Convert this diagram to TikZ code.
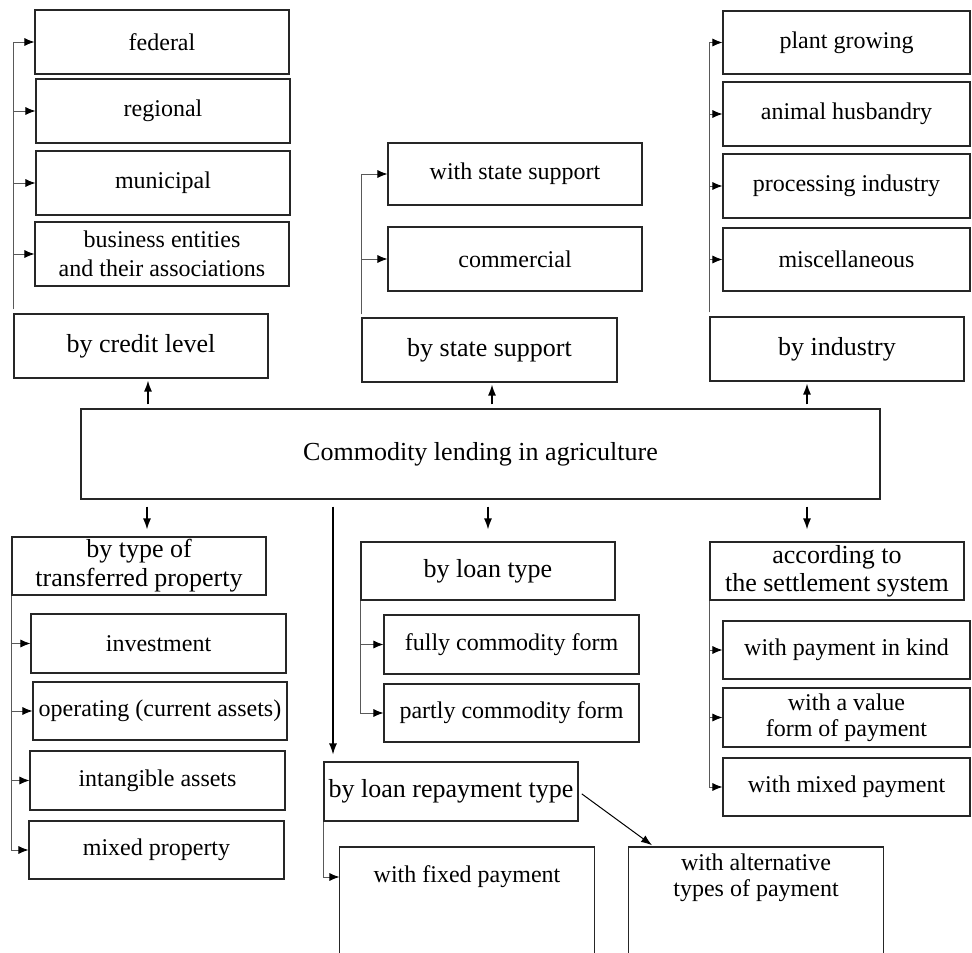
\documentclass[tikz,border=0pt]{standalone}
\usepackage{fontspec}
\setmainfont{Liberation Serif}
\usetikzlibrary{arrows.meta}
\begin{document}
\begin{tikzpicture}[x=1pt,y=-1pt,
  boxbase/.style={draw=black!85, line width=1.1pt, align=center, inner sep=0pt, text=black},
  cat/.style={boxbase, font=\fontsize{26}{29}\selectfont},
  sub/.style={boxbase, font=\fontsize{24}{27}\selectfont},
  arr/.style={draw=black, line width=1.4pt, -{Latex[length=11pt,width=8pt]}},
  bus/.style={draw=black!65, line width=0.8pt},
  busarr/.style={draw=black!65, line width=0.8pt, -{Latex[length=10pt,width=8pt,color=black]}},
  openbox/.style={draw=black!85, line width=1.1pt}]
\useasboundingbox (0,0) rectangle (972,953);
\clip (0,0) rectangle (972,953);
\fill[white] (0,0) rectangle (972,953);

% top left group
\node[sub,minimum width=254pt,minimum height=64pt] (federal) at (162,42) {federal};
\node[sub,minimum width=254pt,minimum height=64pt] (regional) at (163,111) {regional};
\node[sub,minimum width=254pt,minimum height=64pt] (municipal) at (163,183) {municipal};
\node[sub,minimum width=254pt,minimum height=64pt,font=\fontsize{24}{29.5}\selectfont] (business) at (162,254) {business entities\\and their associations};
\node[cat,minimum width=254pt,minimum height=64pt] (credit) at (141,346) {by credit level};

% top middle group
\node[sub,minimum width=254pt,minimum height=62pt] (withstate) at (515,174) {with state support};
\node[sub,minimum width=254pt,minimum height=64pt] (commercial) at (515,259) {commercial};
\node[cat,minimum width=255pt,minimum height=64pt] (bystate) at (489.5,350) {by state support};

% top right group
\node[sub,minimum width=247pt,minimum height=63pt] (plant) at (846.5,42.5) {plant growing};
\node[sub,minimum width=247pt,minimum height=64pt] (animal) at (846.5,114) {animal husbandry};
\node[sub,minimum width=247pt,minimum height=64pt] (processing) at (846.5,186) {processing industry};
\node[sub,minimum width=247pt,minimum height=63pt] (misc) at (846.5,259.5) {miscellaneous};
\node[cat,minimum width=254pt,minimum height=64pt] (industry) at (837,349) {by industry};

% main
\node[cat,minimum width=799pt,minimum height=90pt] (main) at (480.5,454) {Commodity lending in agriculture};

% bottom left group
\node[cat,minimum width=254pt,minimum height=58pt] (property) at (139,566) {by type of\\transferred property};
\node[sub,minimum width=255pt,minimum height=59pt] (investment) at (158.5,643.5) {investment};
\node[sub,minimum width=254pt,minimum height=58pt] (operating) at (160,711) {operating (current assets)};
\node[sub,minimum width=255pt,minimum height=59pt] (intangible) at (157.5,780.5) {intangible assets};
\node[sub,minimum width=255pt,minimum height=58pt] (mixedprop) at (156.5,850) {mixed property};

% bottom middle group
\node[cat,minimum width=254pt,minimum height=58pt] (loantype) at (488,571) {by loan type};
\node[sub,minimum width=255pt,minimum height=59pt] (fully) at (511.5,644.5) {fully commodity form};
\node[sub,minimum width=255pt,minimum height=58pt] (partly) at (511.5,713) {partly commodity form};
\node[cat,minimum width=254pt,minimum height=59pt] (repay) at (451,791.5) {by loan repayment type};
\node[sub,draw=none,minimum width=254pt,minimum height=58pt] (fixed) at (467,877) {with fixed payment};
\node[sub,draw=none,minimum width=254pt,minimum height=58pt,font=\fontsize{24}{25.5}\selectfont] (alternative) at (756,878) {with alternative\\types of payment};
\draw[openbox] (fixed.south west |- 0,975) -- (fixed.north west |- 0,847) -- (fixed.north east |- 0,847) -- (fixed.south east |- 0,975);
\draw[openbox] (alternative.south west |- 0,975) -- (alternative.north west |- 0,847) -- (alternative.north east |- 0,847) -- (alternative.south east |- 0,975);

% bottom right group
\node[cat,minimum width=254pt,minimum height=58pt,font=\fontsize{26}{28}\selectfont] (settlement) at (837,571) {according to\\the settlement system};
\node[sub,minimum width=247pt,minimum height=58pt] (kind) at (846.5,650) {with payment in kind};
\node[sub,minimum width=247pt,minimum height=59pt,font=\fontsize{24}{26}\selectfont] (value) at (846.5,717.5) {with a value\\form of payment};
\node[sub,minimum width=247pt,minimum height=58pt] (mixedpay) at (846.5,787) {with mixed payment};

% x positions of the main arrows
\coordinate (xa) at (148,0);
\coordinate (xb) at (492,0);
\coordinate (xc) at (807,0);
\coordinate (xd) at (147,0);
\coordinate (xe) at (488,0);
\coordinate (xf) at (807,0);
\coordinate (xg) at (333,0);

% main arrows
\draw[arr, shorten <=4pt, shorten >=2pt] (main.north -| xa) -- (credit.south -| xa);
\draw[arr, shorten <=4pt, shorten >=2pt] (main.north -| xb) -- (bystate.south -| xb);
\draw[arr, shorten <=4pt, shorten >=2pt] (main.north -| xc) -- (industry.south -| xc);
\draw[arr, shorten <=7pt, shorten >=7pt] (main.south -| xd) -- (property.north -| xd);
\draw[arr, shorten <=7pt, shorten >=12pt] (main.south -| xe) -- (loantype.north -| xe);
\draw[arr, shorten <=7pt, shorten >=12pt] (main.south -| xf) -- (settlement.north -| xf);
\draw[arr, line width=1.1pt, shorten <=7pt, shorten >=7pt] (main.south -| xg) -- (repay.north -| xg);

% bus: credit level
\draw[bus] ([yshift=4pt]credit.north west) -- (credit.north west |- federal.west);
\foreach \t in {federal,regional,municipal,business}
  \draw[busarr] (credit.north west |- \t.west) -- (\t.west);

% bus: state support
\draw[bus] ([yshift=3pt]bystate.north west) -- (bystate.north west |- withstate.west);
\foreach \t in {withstate,commercial}
  \draw[busarr] (bystate.north west |- \t.west) -- (\t.west);

% bus: industry
\draw[bus] ([yshift=4pt]industry.north west) -- (industry.north west |- plant.west);
\foreach \t in {plant,animal,processing,misc}
  \draw[busarr] (industry.north west |- \t.west) -- (\t.west);

% bus: transferred property
\draw[bus] (property.south west) -- (property.south west |- mixedprop.west);
\foreach \t in {investment,operating,intangible,mixedprop}
  \draw[busarr] (property.south west |- \t.west) -- (\t.west);

% bus: loan type
\draw[bus] (loantype.south west) -- (loantype.south west |- partly.west);
\foreach \t in {fully,partly}
  \draw[busarr] (loantype.south west |- \t.west) -- (\t.west);

% bus: settlement
\draw[bus] (settlement.south west) -- (settlement.south west |- mixedpay.west);
\foreach \t in {kind,value,mixedpay}
  \draw[busarr] (settlement.south west |- \t.west) -- (\t.west);

% bus: repayment
\draw[busarr] (repay.south west) |- (fixed.west);
\draw[arr, line width=1pt, shorten <=4pt, shorten >=3pt] (repay.east) -- ([xshift=26pt]alternative.north west |- 0,847);
\end{tikzpicture}
\end{document}
